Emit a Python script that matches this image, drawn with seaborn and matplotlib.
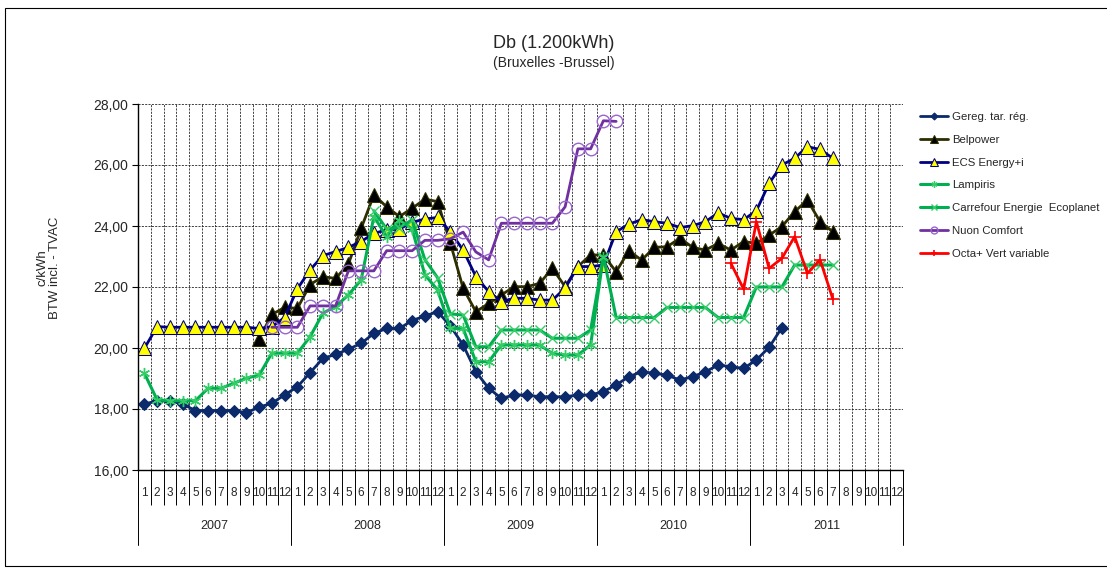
import numpy as np
import pandas as pd
import matplotlib
matplotlib.use("Agg")
import matplotlib.pyplot as plt
import matplotlib.transforms as mtransforms
from matplotlib.patches import Rectangle
from matplotlib.ticker import FixedLocator, FuncFormatter
import seaborn as sns

# ---- data (c/kWh, monthly, jan 2007 = month index 0) ----
YEARS = ["2007", "2008", "2009", "2010", "2011"]
MONTHS = ["1", "2", "3", "4", "5", "6", "7", "8", "9", "10", "11", "12"]

GEREG_START = 0
GEREG = [18.16, 18.27, 18.27, 18.16, 17.95, 17.95, 17.95, 17.95, 17.88, 18.06, 18.19, 18.46,
         18.73, 19.19, 19.66, 19.79, 19.96, 20.15, 20.48, 20.64, 20.64, 20.90, 21.05, 21.19,
         20.72, 20.10, 19.22, 18.68, 18.35, 18.46, 18.46, 18.40, 18.40, 18.40, 18.46, 18.46,
         18.57, 18.79, 19.06, 19.22, 19.17, 19.11, 18.95, 19.06, 19.22, 19.44, 19.39, 19.33,
         19.61, 20.02, 20.67]

BELPOWER_START = 9
BELPOWER = [20.30, 21.10, 21.33,
            21.30, 22.08, 22.34, 22.28, 22.75, 23.92, 25.02, 24.63, 24.31, 24.58, 24.88, 24.80,
            23.44, 21.96, 21.19, 21.46, 21.74, 22.01, 22.01, 22.12, 22.61, 22.01, 22.67, 23.05,
            23.05, 22.50, 23.19, 22.88, 23.30, 23.32, 23.60, 23.30, 23.21, 23.43, 23.21, 23.49,
            23.43, 23.70, 23.98, 24.47, 24.85, 24.14, 23.81]

ECS_START = 0
ECS = [19.99, 20.70, 20.68, 20.68, 20.68, 20.68, 20.68, 20.68, 20.68, 20.64, 20.70, 21.00,
       21.94, 22.56, 23.03, 23.16, 23.30, 23.49, 23.76, 23.87, 23.90, 24.12, 24.23, 24.28,
       23.81, 23.21, 22.34, 21.85, 21.52, 21.63, 21.63, 21.57, 21.57, 21.96, 22.67, 22.67,
       22.72, 23.81, 24.06, 24.21, 24.14, 24.09, 23.95, 24.01, 24.14, 24.43, 24.25, 24.21,
       24.50, 25.40, 26.00, 26.22, 26.60, 26.51, 26.22]

LAMPIRIS_START = 0
LAMPIRIS = [19.17, 18.30, 18.27, 18.27, 18.27, 18.68, 18.68, 18.84, 19.01, 19.11, 19.83, 19.83,
            19.83, 20.37, 21.14, 21.36, 21.74, 22.23, 24.31, 23.65, 24.20, 23.90, 22.40, 21.90,
            20.64, 20.64, 19.55, 19.55, 20.10, 20.10, 20.10, 20.10, 19.82, 19.77, 19.77, 20.10,
            23.00]

CARREFOUR_START = 18
CARREFOUR = [24.50, 23.90, 23.95, 24.20, 22.90, 22.30,
             21.12, 21.08, 20.04, 20.04, 20.59, 20.59, 20.59, 20.59, 20.32, 20.32, 20.32, 20.59,
             23.00, 21.00, 21.00, 21.00, 21.00, 21.33, 21.33, 21.33, 21.33, 21.00, 21.00, 21.00,
             22.00, 22.00, 22.00, 22.72, 22.72, 22.72, 22.72]

NUON_START = 10
NUON = [20.68, 20.68,
        20.68, 21.38, 21.38, 21.38, 22.53, 22.53, 22.53, 23.19, 23.19, 23.19, 23.53, 23.53,
        23.58, 23.80, 23.15, 22.89, 24.09, 24.09, 24.09, 24.09, 24.09, 24.63, 26.53, 26.53,
        27.45, 27.43]

OCTA_START = 46
OCTA = [22.78, 21.93, 24.14, 22.61, 22.94, 23.65, 22.45, 22.89, 21.60]

SERIES = [
    ("Gereg. tar. rég.", GEREG_START, GEREG),
    ("Belpower", BELPOWER_START, BELPOWER),
    ("ECS Energy+i", ECS_START, ECS),
    ("Lampiris", LAMPIRIS_START, LAMPIRIS),
    ("Carrefour Energie  Ecoplanet", CARREFOUR_START, CARREFOUR),
    ("Nuon Comfort", NUON_START, NUON),
    ("Octa+ Vert variable", OCTA_START, OCTA),
]

# ---- styles ----
STYLES = {
    "Gereg. tar. rég.": dict(color="#0b2a6b", marker="D", markersize=6.5, markerfacecolor="#0b2a6b",
                             markeredgecolor="#0b2a6b", linewidth=2.0),
    "Belpower": dict(color="#2e2e00", marker="^", markersize=9.5, markerfacecolor="black",
                     markeredgecolor="#2e2e00", linewidth=2.0),
    "ECS Energy+i": dict(color="#000080", marker="^", markersize=9.5, markerfacecolor="#ffff00",
                         markeredgecolor="#000080", linewidth=2.0),
    "Lampiris": dict(color="#00b050", marker=(6, 2, 0), markersize=8, markerfacecolor="none",
                     markeredgecolor="#33cc66", markeredgewidth=1.0, linewidth=2.2),
    "Carrefour Energie  Ecoplanet": dict(color="#00b050", marker="x", markersize=7,
                                         markeredgecolor="#33cc66", markeredgewidth=1.0, linewidth=2.2),
    "Nuon Comfort": dict(color="#7030a0", marker="o", markersize=9, markerfacecolor="none",
                         markeredgecolor="#9966cc", markeredgewidth=1.0, linewidth=2.0),
    "Octa+ Vert variable": dict(color="#ff0000", marker="+", markersize=9,
                                markeredgecolor="#ff0000", markeredgewidth=1.2, linewidth=2.0),
}

sns.set_theme(style="white")
plt.rcParams["font.family"] = ["Liberation Sans", "DejaVu Sans"]

W, H = 1107, 569
fig = plt.figure(figsize=(W / 100, H / 100), dpi=100)
ax = fig.add_axes([138 / W, 1 - 470 / H, (903 - 138) / W, (470 - 104) / H])

for name, start, values in SERIES:
    df = pd.DataFrame({"month": np.arange(start, start + len(values)), "value": values})
    sns.lineplot(data=df, x="month", y="value", ax=ax, label=name, **STYLES[name])

n_months = len(YEARS) * len(MONTHS)
ax.set_xlim(-0.5, n_months - 0.5)
ax.set_ylim(16, 28)
ax.set_xlabel("")
ax.set_ylabel("")

# y axis
ax.yaxis.set_major_locator(FixedLocator(np.arange(16, 28.1, 2)))
ax.yaxis.set_major_formatter(FuncFormatter(lambda v, p: f"{v:.2f}".replace(".", ",")))
ax.tick_params(axis="y", which="major", direction="out", length=4, width=0.8,
               color="black", labelsize=10, pad=3, left=True)

# x axis: month numbers + separators
ax.xaxis.set_major_locator(FixedLocator(np.arange(n_months)))
ax.set_xticklabels(MONTHS * len(YEARS))
ax.xaxis.set_minor_locator(FixedLocator(np.arange(-0.5, n_months, 1)))
ax.tick_params(axis="x", which="major", length=0, labelsize=8.5, pad=12)
ax.tick_params(axis="x", which="minor", direction="out", length=25, width=0.7,
               color="black", bottom=True)

ax.grid(False)
ax.grid(which="minor", axis="x", color="#222222", linestyle=(0, (2.5, 1.5)), linewidth=0.6)
ax.grid(which="major", axis="y", color="#222222", linestyle=(0, (2.5, 1.5)), linewidth=0.6)

for side in ["top", "right"]:
    ax.spines[side].set_visible(False)
for side in ["left", "bottom"]:
    ax.spines[side].set_color("black")
    ax.spines[side].set_linewidth(1.0)

# year labels and year separators
trans = mtransforms.blended_transform_factory(ax.transData, ax.transAxes)
n_m = len(MONTHS)
for k, year in enumerate(YEARS):
    ax.text(k * n_m + (n_m - 1) / 2, -0.152, year, transform=trans,
            ha="center", va="center", fontsize=9)
for k in range(len(YEARS) + 1):
    b = k * n_m - 0.5
    ax.plot([b, b], [0, -0.205], transform=trans, clip_on=False, color="black", linewidth=0.7)

# titles
fig.text(0.5, 1 - 43 / H, "Db (1.200kWh)", ha="center", va="center", fontsize=13)
fig.text(0.5, 1 - 63 / H, "(Bruxelles -Brussel)", ha="center", va="center", fontsize=10)
fig.text(49 / W, 1 - 268 / H, "c/kWh\nBTW incl. - TVAC", rotation=90,
         ha="center", va="center", fontsize=9.5, linespacing=1.0)

# legend
handles, labels = ax.get_legend_handles_labels()
ax.legend(handles, labels, loc="upper left", bbox_to_anchor=(920 / W, 1 - 112 / H),
          bbox_transform=fig.transFigure, frameon=False, fontsize=8.2, borderpad=0,
          handlelength=2.5, handletextpad=0.3, labelspacing=1.12, borderaxespad=0,
          markerscale=0.55)

# chart outline
fig.add_artist(Rectangle((5 / W, 3 / H), 1.0, (566 - 8) / H, transform=fig.transFigure,
                         fill=False, edgecolor="black", linewidth=0.8))

fig.savefig("out.png", dpi=100)
